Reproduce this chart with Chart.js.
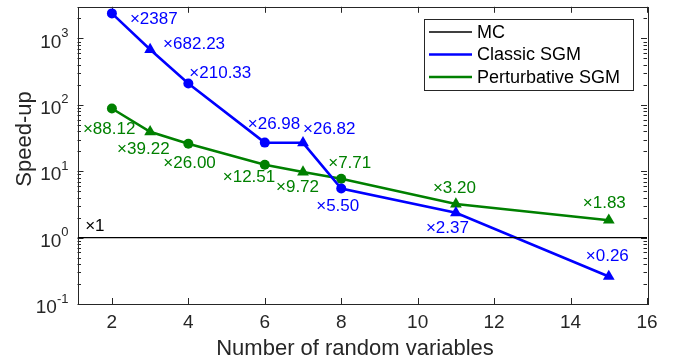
<!DOCTYPE html>
<html>
<head>
<meta charset="utf-8">
<script src="https://cdn.jsdelivr.net/npm/chart.js"></script>
<style>
  html, body { margin: 0; padding: 0; background: #fff; }
  #wrap { width: 683px; height: 364px; position: relative; }
</style>
</head>
<body>
<div id="wrap"><canvas id="speedupChart"></canvas></div>
<script>
// Speed-up vs number of random variables (log y)

const numVars = [2, 3, 4, 6, 7, 8, 11, 15];
const classicSpeedup = [2387, 682.23, 210.33, 26.98, 26.82, 5.50, 2.37, 0.26];
const perturbSpeedup = [88.12, 39.22, 26.00, 12.51, 9.72, 7.71, 3.20, 1.83];
const classicLabels = ['×2387', '×682.23', '×210.33', '×26.98', '×26.82', '×5.50', '×2.37', '×0.26'];
const perturbLabels = ['×88.12', '×39.22', '×26.00', '×12.51', '×9.72', '×7.71', '×3.20', '×1.83'];
const mcRange = [1.1, 16];
const mcSpeedup = [1, 1];
const mcLabel = '×1';
const xTicks = [2, 4, 6, 8, 10, 12, 14, 16];
const yDecades = [-1, 0, 1, 2, 3];
const yMin = 0.1, yMax = 3000;

// marker shape per point (MATLAB 'o' and '^')
const markers = ['circle', 'triangle', 'circle', 'circle', 'triangle', 'circle', 'triangle', 'triangle'];

// label offsets from the point [dx, dy], text left aligned
const classicOffsets = [[18, 6], [13, -5], [1, -10], [-17, -18], [0, -13], [-25, 18], [-30, 16], [-23, -20]];
const perturbOffsets = [[-29, 21], [-33, 17], [-25, 20], [-42, 13], [-27, 15], [-13, -15], [-23, -16], [-26, -17]];

const FONT = '"Liberation Sans", Arial, Helvetica, sans-serif';
const AXIS_COLOR = '#262626';
const BLUE = '#0000ff';
const GREEN = '#008000';

function toPoints(xs, ys) {
    return xs.map(function(x, i) { return { x: x, y: ys[i] }; });
}

// frame, inward ticks and tick labels, MATLAB style
const axesPlugin = {
    id: 'matlabAxes',
    beforeDatasetsDraw: function(chart) {
        const ctx = chart.ctx;
        const a = chart.chartArea;
        const xs = chart.scales.x;
        const ys = chart.scales.y;
        ctx.save();
        ctx.strokeStyle = AXIS_COLOR;
        ctx.lineWidth = 1;
        ctx.beginPath();
        // x ticks, bottom and top
        xTicks.forEach(function(v) {
            const px = Math.round(xs.getPixelForValue(v)) + 0.5;
            ctx.moveTo(px, a.bottom); ctx.lineTo(px, a.bottom - 6);
            ctx.moveTo(px, a.top); ctx.lineTo(px, a.top + 6);
        });
        // y ticks, major and minor, left and right
        yDecades.forEach(function(d) {
            for (let m = 1; m <= 9; m++) {
                const v = m * Math.pow(10, d);
                if (v < yMin || v > yMax) continue;
                const py = Math.round(ys.getPixelForValue(v)) + 0.5;
                const len = m === 1 ? 6 : 3.5;
                ctx.moveTo(a.left, py); ctx.lineTo(a.left + len, py);
                ctx.moveTo(a.right, py); ctx.lineTo(a.right - len, py);
            }
        });
        ctx.stroke();
        ctx.strokeRect(Math.round(a.left) + 0.5, Math.round(a.top) + 0.5,
            Math.round(a.right - a.left), Math.round(a.bottom - a.top));

        ctx.fillStyle = AXIS_COLOR;
        // x tick labels
        ctx.font = '19px ' + FONT;
        ctx.textAlign = 'center';
        ctx.textBaseline = 'middle';
        xTicks.forEach(function(v) {
            ctx.fillText(String(v), xs.getPixelForValue(v), 323);
        });
        // y tick labels 10^n
        yDecades.forEach(function(d) {
            const py = ys.getPixelForValue(Math.pow(10, d));
            const sup = String(d);
            ctx.font = '13px ' + FONT;
            const supW = ctx.measureText(sup).width;
            const right = a.left - 9;
            ctx.textAlign = 'left';
            ctx.fillText(sup, right - supW, py - 5);
            ctx.font = '19px ' + FONT;
            ctx.textAlign = 'right';
            ctx.fillText('10', right - supW, py + 4);
        });
        // axis titles
        ctx.font = '22px ' + FONT;
        ctx.textAlign = 'center';
        ctx.fillText('Number of random variables', 355, 349);
        ctx.save();
        ctx.translate(25, 139);
        ctx.rotate(-Math.PI / 2);
        ctx.fillText('Speed-up', 0, 0);
        ctx.restore();
        ctx.restore();
    },
    afterDatasetsDraw: function(chart) {
        const ctx = chart.ctx;
        ctx.save();
        ctx.font = '17px ' + FONT;
        ctx.textAlign = 'left';
        ctx.textBaseline = 'middle';
        const sets = [[1, classicLabels, classicOffsets, BLUE], [2, perturbLabels, perturbOffsets, GREEN]];
        sets.forEach(function(s) {
            const meta = chart.getDatasetMeta(s[0]);
            ctx.fillStyle = s[3];
            meta.data.forEach(function(pt, i) {
                ctx.fillText(s[1][i], pt.x + s[2][i][0], pt.y + s[2][i][1]);
            });
        });
        // MC label
        const xs = chart.scales.x, ys = chart.scales.y;
        ctx.fillStyle = '#000';
        ctx.fillText(mcLabel, xs.getPixelForValue(1.3), ys.getPixelForValue(1) - 11);

        // legend box
        const bx = 424, by = 19, bw = 209, bh = 71;
        ctx.fillStyle = '#fff';
        ctx.fillRect(bx, by, bw, bh);
        ctx.strokeStyle = AXIS_COLOR;
        ctx.lineWidth = 1;
        ctx.strokeRect(bx + 0.5, by + 0.5, bw, bh);
        ctx.font = '18px ' + FONT;
        chart.data.datasets.forEach(function(ds, i) {
            const y = 32 + i * 22.5;
            ctx.strokeStyle = ds.borderColor;
            ctx.lineWidth = ds.borderWidth;
            ctx.beginPath();
            ctx.moveTo(429, y); ctx.lineTo(472, y);
            ctx.stroke();
            ctx.fillStyle = '#000';
            ctx.fillText(ds.label, 477, y + 1);
        });
        ctx.restore();
    }
};

new Chart(document.getElementById('speedupChart'), {
    type: 'line',
    data: {
        datasets: [{
            label: 'MC',
            data: toPoints(mcRange, mcSpeedup),
            borderColor: '#000000',
            borderWidth: 1.3,
            pointRadius: 0
        }, {
            label: 'Classic SGM',
            data: toPoints(numVars, classicSpeedup),
            borderColor: BLUE,
            backgroundColor: BLUE,
            borderWidth: 2.6,
            pointStyle: markers,
            pointRadius: markers.map(function(m) { return m === 'circle' ? 5 : 6.8; }),
            pointBorderWidth: 0
        }, {
            label: 'Perturbative SGM',
            data: toPoints(numVars, perturbSpeedup),
            borderColor: GREEN,
            backgroundColor: GREEN,
            borderWidth: 2.6,
            pointStyle: markers,
            pointRadius: markers.map(function(m) { return m === 'circle' ? 5 : 6.8; }),
            pointBorderWidth: 0
        }]
    },
    plugins: [axesPlugin],
    options: {
        responsive: true,
        maintainAspectRatio: false,
        animation: false,
        layout: { padding: { left: 77.5, top: 5, right: 36, bottom: 60 } },
        plugins: {
            legend: { display: false },
            tooltip: { enabled: false }
        },
        scales: {
            x: { type: 'linear', min: mcRange[0], max: mcRange[1], display: false },
            y: { type: 'logarithmic', min: yMin, max: yMax, display: false }
        }
    }
});
</script>
</body>
</html>
